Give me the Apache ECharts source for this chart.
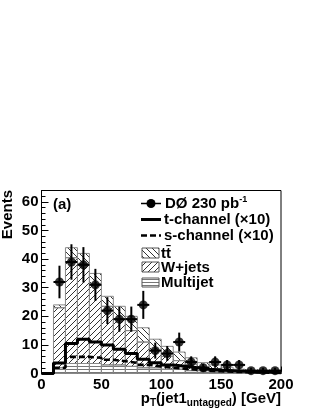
<!DOCTYPE html>
<html>
<head>
<meta charset="utf-8">
<script src="https://cdn.jsdelivr.net/npm/echarts@6/dist/echarts.min.js"></script>
<style>
html,body{margin:0;padding:0;background:#fff;}
#c{width:320px;height:414px;}
</style>
</head>
<body>
<div id="c"></div>
<script>
// ---- data ----
const binLow   = [0,10,20,30,40,50,60,70,80,90,100,110,120,130,140,150,160,170,180,190];
const binWidth = 10;
const multijet = [0,2,3.5,3.5,3.5,3,3,2.5,2,2,1.5,1.5,1,1,0.8,0.6,0.5,0.4,0.3,0.2];
const wjets    = [0,21,37,35,28,20.5,16,12.5,9,6,4.5,3,2.2,1.2,0.9,0.6,0.4,0.2,0.2,0.2];
const ttbar    = [0,1,3.5,3.5,3.5,3.5,4.5,5,5,4,3.5,3,2.3,1.6,1.3,1,0.6,0.4,0.3,0.2];
const tchan10  = [0,3.7,10.5,12,11,10,8.5,7,5,3.8,3,2.5,2,1.5,1.2,1,0.8,0.6,0.5,0.3];
const schan10  = [0,2,5.8,5.8,5.5,4.8,4.3,3.7,3,2.5,2,1.7,1.3,1,0.8,0.6,0.5,0.4,0.3,0.2];
const dataX    = [15,25,35,45,55,65,75,85,95,105,115,125,135,145,155,165,175,185,195];
const dataY    = [32,39,38,31,22,19,19,24,8,7,11,4,2,4,3,3,1,1,1];
const dataErr  = [5.7,6.2,6.2,5.6,4.7,4.4,4.4,4.9,2.8,2.6,3.3,2,1.4,2,1.7,1.7,1,1,1];
const xTicks   = [0,50,100,150,200];
const yTicks   = [0,10,20,30,40,50,60];

// ---- hatch patterns ----
function makePattern(kind){
  const s = kind === 'h' ? 3 : 6;
  const cv = document.createElement('canvas');
  cv.width = 6; cv.height = s;
  const g = cv.getContext('2d');
  g.strokeStyle = '#333'; g.lineWidth = 1;
  g.beginPath();
  if (kind === '/') {
    g.moveTo(0,6); g.lineTo(6,0);
    g.moveTo(-1,1); g.lineTo(1,-1);
    g.moveTo(5,7); g.lineTo(7,5);
  } else if (kind === '\\') {
    g.moveTo(0,0); g.lineTo(6,6);
    g.moveTo(-1,5); g.lineTo(1,7);
    g.moveTo(5,-1); g.lineTo(7,1);
  } else {
    g.strokeStyle = '#777';
    g.moveTo(0,0.5); g.lineTo(6,0.5);
  }
  g.stroke();
  return {image: cv, repeat: 'repeat'};
}
const patW = makePattern('/');
const patT = makePattern('\\');
const patM = makePattern('h');

// stacked boxes
const stackBoxes = [];
binLow.forEach((lo,i)=>{
  const m = multijet[i], w = wjets[i], t = ttbar[i];
  if (m > 0) stackBoxes.push([lo, lo+binWidth, 0, m, 0]);
  if (w > 0) stackBoxes.push([lo, lo+binWidth, m, m+w, 1]);
  if (t > 0) stackBoxes.push([lo, lo+binWidth, m+w, m+w+t, 2]);
});
const pats = [patM, patW, patT];

function stepLine(vals){
  const pts = [[binLow[0], 0]];
  binLow.forEach((lo,i)=>{ pts.push([lo, vals[i]]); pts.push([lo+binWidth, vals[i]]); });
  return pts;
}

const errData = dataX.map((x,i)=>[x, dataY[i], dataErr[i]]);
const ptsData = dataX.map((x,i)=>[x, dataY[i]]);

const FONT = 'Liberation Sans';
const chart = echarts.init(document.getElementById('c'), null, {renderer:'canvas'});
const option = {
  animation: false,
  backgroundColor: '#fff',
  grid: {left: 41.5, right: 39, top: 190.5, bottom: 40.5, show: true, borderColor: '#000', borderWidth: 1, backgroundColor: 'transparent'},
  xAxis: {
    type: 'value', min: 0, max: 200, interval: 50,
    axisLine: {lineStyle: {color: '#000', width: 1}},
    axisTick: {inside: true, length: 7, lineStyle: {color: '#000'}},
    minorTick: {show: true, splitNumber: 5, length: 4, lineStyle: {color: '#000'}},
    splitLine: {show: false},
    axisLabel: {color: '#000', fontFamily: FONT, fontWeight: 'bold', fontSize: 15, margin: 4,
      customValues: xTicks}
  },
  yAxis: {
    type: 'value', min: 0, max: 64, interval: 10,
    axisLine: {show: true, lineStyle: {color: '#000', width: 1}},
    axisTick: {inside: true, length: 7, lineStyle: {color: '#000'}},
    minorTick: {show: true, splitNumber: 5, length: 4, lineStyle: {color: '#000'}},
    splitLine: {show: false},
    axisLabel: {color: '#000', fontFamily: FONT, fontWeight: 'bold', fontSize: 15, margin: 3, showMaxLabel: false,
      formatter: v => (yTicks.indexOf(v) >= 0 ? String(v) : '')}
  },
  series: [
    {
      type: 'custom', z: 1,
      data: stackBoxes,
      encode: {x: [0,1], y: [2,3]},
      renderItem: function(params, api){
        const p0 = api.coord([api.value(0), api.value(3)]);
        const p1 = api.coord([api.value(1), api.value(2)]);
        const k = api.value(4);
        return {type: 'rect', shape: {x: p0[0], y: p0[1], width: p1[0]-p0[0], height: p1[1]-p0[1]},
          style: {fill: pats[k], stroke: '#888', lineWidth: 1}};
      }
    },
    {type: 'line', z: 3, data: stepLine(tchan10), showSymbol: false, symbol: 'none',
      lineStyle: {color: '#000', width: 3}},
    {type: 'line', z: 3, data: stepLine(schan10), showSymbol: false, symbol: 'none',
      lineStyle: {color: '#000', width: 2.6, type: [6,3]}},
    {
      type: 'custom', z: 4,
      data: errData,
      encode: {x: 0, y: 1},
      renderItem: function(params, api){
        const x = api.value(0), y = api.value(1), e = api.value(2);
        const a = api.coord([x, y+e]), b = api.coord([x, y-e]);
        const l = api.coord([x-binWidth/2, y]), r = api.coord([x+binWidth/2, y]);
        return {type: 'group', children: [
          {type: 'line', shape: {x1: a[0], y1: a[1], x2: b[0], y2: b[1]}, style: {stroke: '#000', lineWidth: 2}},
          {type: 'line', shape: {x1: l[0], y1: l[1], x2: r[0], y2: r[1]}, style: {stroke: '#000', lineWidth: 2}}
        ]};
      }
    },
    {type: 'scatter', z: 5, data: ptsData, symbol: 'circle', symbolSize: 9,
      itemStyle: {color: '#000'}}
  ],
  graphic: [
    {type: 'text', left: 53, top: 197, style: {text: '(a)', font: 'bold 15px ' + FONT, fill: '#000'}},
    {type: 'text', x: 8, y: 190, rotation: Math.PI/2, style: {text: 'Events', font: 'bold 15px ' + FONT, fill: '#000', align: 'right', verticalAlign: 'middle'}},
    {type: 'text', x: 281, y: 399, style: {
      text: '{m|p}{s|T}{m|(jet1}{s|untagged}{m|) [GeV]}', align: 'right', verticalAlign: 'middle',
      rich: {m: {font: 'bold 15px ' + FONT, fill: '#000'}, s: {font: 'bold 10px ' + FONT, fill: '#000', verticalAlign: 'bottom', padding: [8,0,0,0]}}}},
    // legend
    {type: 'line', shape: {x1: 141, y1: 203.5, x2: 161, y2: 203.5}, style: {stroke: '#000', lineWidth: 1.5}},
    {type: 'circle', shape: {cx: 151, cy: 203.5, r: 4.5}, style: {fill: '#000'}},
    {type: 'text', x: 165, y: 204, style: {text: '{m|DØ 230 pb}{u|-1}', verticalAlign: 'middle',
      rich: {m: {font: 'bold 15px ' + FONT, fill: '#000'}, u: {font: 'bold 9px ' + FONT, fill: '#000', padding: [0,0,9,0]}}}},
    {type: 'line', shape: {x1: 141, y1: 219.5, x2: 161, y2: 219.5}, style: {stroke: '#000', lineWidth: 3}},
    {type: 'text', x: 164, y: 220, style: {text: 't-channel (×10)', font: 'bold 15px ' + FONT, fill: '#000', verticalAlign: 'middle'}},
    {type: 'line', shape: {x1: 141, y1: 235.5, x2: 161, y2: 235.5}, style: {stroke: '#000', lineWidth: 2.6, lineDash: [6,3]}},
    {type: 'text', x: 164, y: 236, style: {text: 's-channel (×10)', font: 'bold 15px ' + FONT, fill: '#000', verticalAlign: 'middle'}},
    {type: 'rect', shape: {x: 142, y: 248, width: 17, height: 10}, style: {fill: patT, stroke: '#555', lineWidth: 1}},
    {type: 'text', x: 161, y: 253.5, style: {text: 'tt̄', font: 'bold 15px ' + FONT, fill: '#000', verticalAlign: 'middle'}},
    {type: 'rect', shape: {x: 142, y: 262, width: 17, height: 10}, style: {fill: patW, stroke: '#555', lineWidth: 1}},
    {type: 'text', x: 161, y: 267.5, style: {text: 'W+jets', font: 'bold 15px ' + FONT, fill: '#000', verticalAlign: 'middle'}},
    {type: 'rect', shape: {x: 142, y: 278, width: 17, height: 9}, style: {fill: patM, stroke: '#555', lineWidth: 1}},
    {type: 'text', x: 161, y: 283, style: {text: 'Multijet', font: 'bold 15px ' + FONT, fill: '#000', verticalAlign: 'middle'}}
  ]
};
chart.setOption(option);
</script>
</body>
</html>
